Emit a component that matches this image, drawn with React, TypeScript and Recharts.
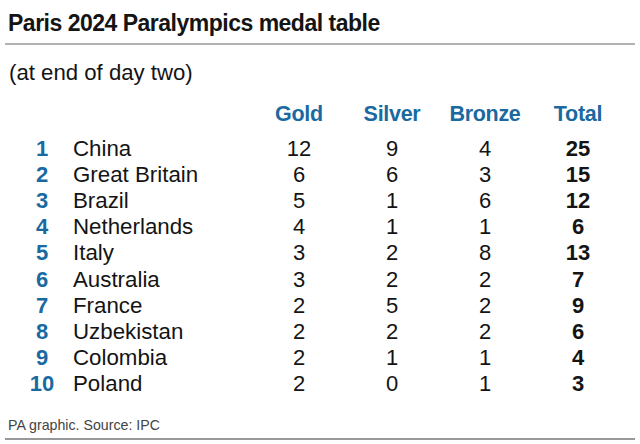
import { ScatterChart, Scatter, XAxis, YAxis } from "recharts";

const ranks = [1, 2, 3, 4, 5, 6, 7, 8, 9, 10];
const countries = [
  "China",
  "Great Britain",
  "Brazil",
  "Netherlands",
  "Italy",
  "Australia",
  "France",
  "Uzbekistan",
  "Colombia",
  "Poland",
];
const gold = [12, 6, 5, 4, 3, 3, 2, 2, 2, 2];
const silver = [9, 6, 1, 1, 2, 2, 5, 2, 1, 0];
const bronze = [4, 3, 6, 1, 8, 2, 2, 2, 1, 1];
const total = [25, 15, 12, 6, 13, 7, 9, 6, 4, 3];
const headers = ["Gold", "Silver", "Bronze", "Total"];

const FONT = '"Liberation Sans", Arial, sans-serif';
const BLUE = "#1a69a1";
const INK = "#141414";

const columns = [gold, silver, bronze, total];
const columnData = columns.map((values, col) =>
  values.map((value, row) => ({ col, row, value, country: countries[row] }))
);

function HeaderTick({ x, y, payload }: any) {
  return (
    <text
      x={x}
      y={y - 14}
      textAnchor="middle"
      fontFamily={FONT}
      fontSize={21.5}
      fontWeight={700}
      letterSpacing={-0.3}
      fill={BLUE}
    >
      {headers[payload.value]}
    </text>
  );
}

function CountryTick({ y, payload }: any) {
  const i = payload.value;
  return (
    <g>
      <text
        x={42}
        y={y + 8}
        textAnchor="middle"
        fontFamily={FONT}
        fontSize={22}
        fontWeight={700}
        fill={BLUE}
      >
        {ranks[i]}
      </text>
      <text x={73} y={y + 8} fontFamily={FONT} fontSize={22.3} fill={INK}>
        {countries[i]}
      </text>
    </g>
  );
}

function cellShape(bold: boolean) {
  return (props: any) => (
    <text
      x={props.cx}
      y={props.cy + 8}
      textAnchor="middle"
      fontFamily={FONT}
      fontSize={22}
      fontWeight={bold ? 700 : 400}
      fill={INK}
    >
      {props.payload.value}
    </text>
  );
}

export default function App() {
  return (
    <div
      style={{
        position: "absolute",
        left: 0,
        top: 0,
        width: 640,
        height: 444,
        background: "#fff",
      }}
    >
      <ScatterChart
        width={640}
        height={444}
        margin={{ top: 0, right: 15.5, bottom: 48, left: 0 }}
      >
        <XAxis
          type="number"
          dataKey="col"
          orientation="top"
          domain={[-0.5, 3.5]}
          ticks={[0, 1, 2, 3]}
          height={135}
          axisLine={false}
          tickLine={false}
          tickSize={0}
          tickMargin={0}
          tick={<HeaderTick />}
        />
        <YAxis
          type="number"
          dataKey="row"
          domain={[-0.5, 9.5]}
          ticks={ranks.map((_, i) => i)}
          reversed
          width={252.5}
          axisLine={false}
          tickLine={false}
          tick={<CountryTick />}
        />
        {columnData.map((data, col) => (
          <Scatter
            key={headers[col]}
            data={data}
            isAnimationActive={false}
            shape={cellShape(col === 3)}
          />
        ))}
      </ScatterChart>
      <svg
        width={640}
        height={444}
        style={{ position: "absolute", left: 0, top: 0, pointerEvents: "none" }}
      >
        <text
          x={8}
          y={31}
          fontFamily={FONT}
          fontSize={23}
          fontWeight={700}
          letterSpacing={-0.5}
          fill={INK}
        >
          Paris 2024 Paralympics medal table
        </text>
        <line x1={5} x2={635} y1={44} y2={44} stroke="#666" strokeWidth={1.2} />
        <text x={9} y={80} fontFamily={FONT} fontSize={22.2} fill={INK}>
          (at end of day two)
        </text>
        <text x={8} y={430} fontFamily={FONT} fontSize={14.2} fill="#444">
          PA graphic. Source: IPC
        </text>
        <line x1={5} x2={635} y1={439} y2={439} stroke="#333" strokeWidth={1.2} />
      </svg>
    </div>
  );
}
